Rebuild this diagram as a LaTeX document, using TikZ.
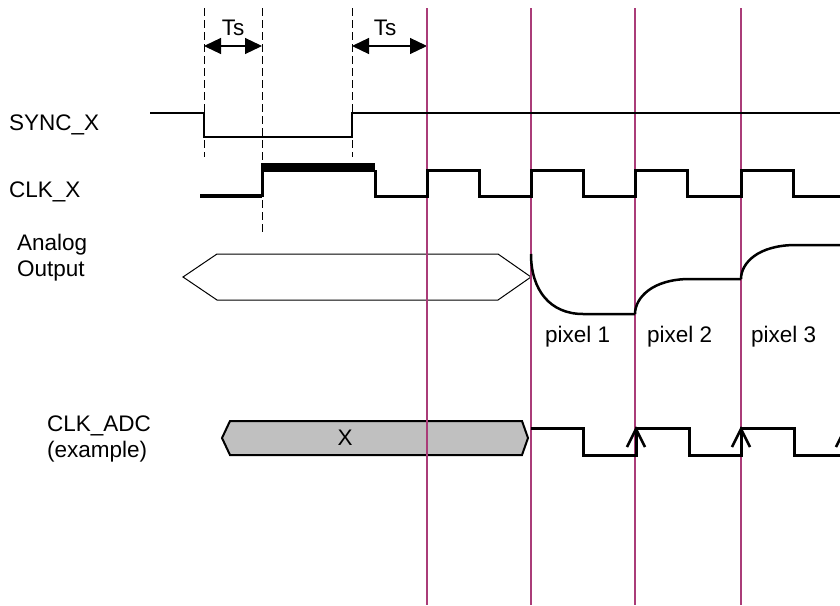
\documentclass[tikz,border=0pt]{standalone}
\usepackage{fontspec}
\setmainfont{Liberation Sans}
\usetikzlibrary{arrows.meta}

\definecolor{marker}{RGB}{170,60,120}
\definecolor{boxgrey}{RGB}{192,192,192}

\tikzset{
  lbl/.style={inner sep=0pt, anchor=base west},
  guide/.style={black, line width=1pt, dash pattern=on 8pt off 4pt},
  marks/.style={marker, line width=1.2pt},
  syncwave/.style={black, line width=2pt},
  clkwave/.style={black, line width=3pt, line join=miter},
  analog/.style={black, line width=2.5pt},
  tsarrow/.style={black, line width=1.2pt, {Triangle[length=17pt,width=16pt]}-{Triangle[length=17pt,width=16pt]}},
  edgetip/.style={black, line width=2.5pt}
}

\begin{document}
\begin{tikzpicture}[x=1pt, y=-1pt, font=\fontsize{22.5}{26}\selectfont]
\clip (0,0) rectangle (840,605);
\fill [white] (0,0) rectangle (840,605);

% signal names
\node [lbl] (sync) at (9,130) {SYNC\_X};
\node [lbl] (clk) at (9,197) {CLK\_X};
\node [inner sep=0pt, anchor=north west, align=left] (ana) at (17,234) {Analog\\Output};
\node [inner sep=0pt, anchor=north west, align=left] (adc) at (47,416) {CLK\_ADC\\(example)};

% dashed guides and Ts
\coordinate (d1) at (204,46);
\coordinate (d2) at (262,46);
\coordinate (d3) at (352,46);
\coordinate (m1) at (427,46);
\draw [guide] (204,8) -- (204,157);
\draw [guide] (262,8) -- (262,233);
\draw [guide] (352,8) -- (352,157);
\draw [tsarrow] (d1) -- (d2);
\draw [tsarrow] (d3) -- (m1);
\node [inner sep=0pt, anchor=base] (ts1) at (233,35) {Ts};
\node [inner sep=0pt, anchor=base] (ts2) at (385,35) {Ts};

% data boxes
\draw [black, fill=white, line width=1pt] (183,277) -- (217,254) -- (498,254) -- (531,277) -- (498,300) -- (217,300) -- cycle;
\draw [black, fill=boxgrey, line width=2pt] (222,438) -- (230,421) -- (522,421) -- (528,438) -- (522,455) -- (230,455) -- cycle;
\node [inner sep=0pt] (xval) at (345,438) {X};

% sample marks
\foreach \x in {427,531,635,741}
  \draw [marks] (\x,8) -- (\x,605);

% SYNC_X
\draw [syncwave] (150,113) -- (204,113) -- (204,137) -- (352,137) -- (352,113) -- (840,113);

% CLK_X
\draw [clkwave, line width=4pt] (200,196) -- (262,196);
\draw [clkwave] (262,197) -- (262,164);
\fill [black] (261,163) rectangle (375,172);
\draw [clkwave] (375,170) -- (375,196)
  \foreach \x in {427,531,635,741} { -- (\x,196) -- (\x,170) -- (\x+52,170) -- (\x+52,196) } -- (840,196);

% analog output
\draw [analog] (531,254) .. controls (531,290) and (550,314) .. (583,314) -- (635,314);
\draw [analog] (635,314) .. controls (635,298) and (652,279) .. (690,279) -- (741,279);
\draw [analog] (741,279) .. controls (741,263) and (758,245) .. (796,245) -- (840,245);
\node [lbl] (px1) at (545,342) {pixel 1};
\node [lbl] (px2) at (647,342) {pixel 2};
\node [lbl] (px3) at (751,342) {pixel 3};

% CLK_ADC
\draw [clkwave] (531,428) -- (583,428) -- (583,455) -- (636,455) -- (636,428) -- (689,428) -- (689,455) -- (741,455) -- (741,428) -- (794,428) -- (794,455) -- (845,455) -- (845,428);
\foreach \x in {636,741,845}
  \draw [edgetip] (\x-9,447) -- (\x,429) -- (\x+9,447);
\end{tikzpicture}
\end{document}
